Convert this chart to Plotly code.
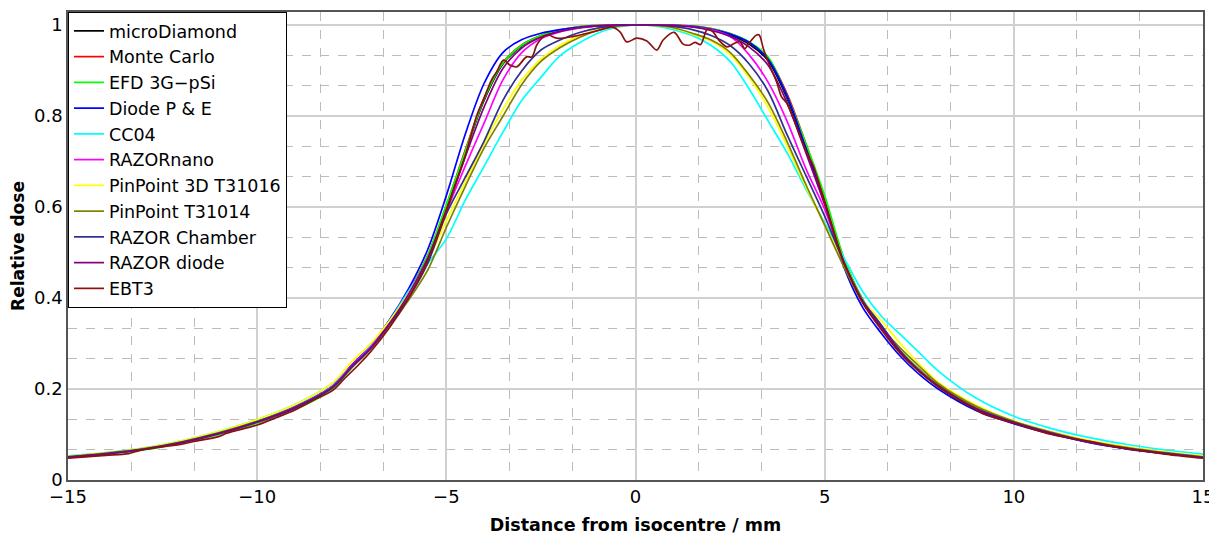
import plotly.graph_objects as go

# shared sampling positions (mm) for the smooth detector profiles
pos = [-15, -14, -13, -12, -11, -10, -9, -8, -7.5, -7, -6.5, -6, -5.5, -5, -4.5, -4,
       -3.5, -3, -2.5, -2, -1.5, -1, -0.5, 0, 0.5, 1, 1.5, 2, 2.5, 3, 3.5, 4, 4.5,
       5, 5.5, 6, 6.5, 7, 7.5, 8, 9, 10, 11, 12, 13, 14, 15]

micro_diamond = [0.051, 0.058, 0.068, 0.083, 0.103, 0.128, 0.160, 0.205, 0.250, 0.290, 0.345, 0.410,
                 0.490, 0.600, 0.720, 0.835, 0.915, 0.955, 0.976, 0.988, 0.995, 0.998, 1.0, 1.0,
                 1.0, 0.999, 0.997, 0.990, 0.978, 0.958, 0.922, 0.840, 0.730, 0.615, 0.485, 0.395,
                 0.338, 0.283, 0.242, 0.208, 0.158, 0.128, 0.104, 0.084, 0.070, 0.060, 0.051]
monte_carlo = [0.051, 0.058, 0.068, 0.083, 0.103, 0.128, 0.160, 0.206, 0.251, 0.292, 0.347, 0.412,
               0.492, 0.603, 0.725, 0.840, 0.918, 0.957, 0.977, 0.989, 0.996, 0.999, 1.0, 1.0,
               1.0, 1.0, 0.998, 0.992, 0.981, 0.962, 0.928, 0.850, 0.740, 0.620, 0.488, 0.397,
               0.339, 0.284, 0.243, 0.209, 0.159, 0.128, 0.104, 0.084, 0.070, 0.059, 0.050]
efd_pSi = [0.049, 0.056, 0.066, 0.081, 0.100, 0.125, 0.155, 0.200, 0.246, 0.288, 0.344, 0.410,
           0.492, 0.605, 0.722, 0.838, 0.917, 0.956, 0.977, 0.989, 0.996, 0.999, 1.0, 1.0,
           1.0, 1.0, 0.998, 0.992, 0.981, 0.963, 0.930, 0.845, 0.740, 0.625, 0.490, 0.398,
           0.339, 0.284, 0.243, 0.208, 0.158, 0.127, 0.103, 0.083, 0.069, 0.059, 0.050]
diode_pe = [0.052, 0.059, 0.069, 0.084, 0.104, 0.129, 0.161, 0.207, 0.253, 0.295, 0.352, 0.420,
            0.505, 0.625, 0.760, 0.872, 0.940, 0.968, 0.982, 0.990, 0.995, 0.998, 0.999, 1.0,
            1.0, 0.999, 0.997, 0.991, 0.980, 0.962, 0.925, 0.845, 0.730, 0.610, 0.470, 0.380,
            0.322, 0.272, 0.232, 0.200, 0.153, 0.124, 0.101, 0.082, 0.068, 0.058, 0.050]
cc04 = [0.053, 0.060, 0.070, 0.086, 0.107, 0.133, 0.166, 0.213, 0.250, 0.295, 0.350, 0.415,
        0.475, 0.530, 0.615, 0.690, 0.765, 0.835, 0.885, 0.932, 0.960, 0.982, 0.995, 1.0,
        0.998, 0.990, 0.977, 0.955, 0.920, 0.860, 0.790, 0.720, 0.640, 0.565, 0.490, 0.415,
        0.360, 0.320, 0.280, 0.240, 0.180, 0.140, 0.113, 0.093, 0.078, 0.066, 0.057]
razor_nano = [0.051, 0.058, 0.068, 0.083, 0.103, 0.129, 0.161, 0.207, 0.252, 0.293, 0.347, 0.410,
              0.480, 0.590, 0.690, 0.785, 0.880, 0.940, 0.970, 0.985, 0.993, 0.998, 1.0, 1.0,
              1.0, 0.999, 0.996, 0.990, 0.975, 0.935, 0.875, 0.790, 0.685, 0.595, 0.480, 0.395,
              0.336, 0.282, 0.241, 0.207, 0.157, 0.127, 0.103, 0.083, 0.069, 0.059, 0.050]
pinpoint_3d = [0.052, 0.060, 0.070, 0.086, 0.107, 0.133, 0.166, 0.214, 0.260, 0.300, 0.350, 0.410,
               0.480, 0.570, 0.655, 0.740, 0.815, 0.880, 0.925, 0.955, 0.975, 0.990, 0.997, 1.0,
               0.999, 0.993, 0.980, 0.965, 0.935, 0.885, 0.820, 0.735, 0.645, 0.560, 0.480, 0.395,
               0.350, 0.300, 0.255, 0.215, 0.165, 0.130, 0.106, 0.087, 0.073, 0.062, 0.053]
pinpoint_t31014 = [0.051, 0.059, 0.069, 0.084, 0.104, 0.129, 0.160, 0.205, 0.248, 0.288, 0.338, 0.395,
                   0.460, 0.555, 0.645, 0.730, 0.800, 0.870, 0.920, 0.950, 0.972, 0.988, 0.997, 1.0,
                   0.999, 0.994, 0.982, 0.967, 0.940, 0.890, 0.830, 0.745, 0.650, 0.560, 0.470, 0.390,
                   0.335, 0.290, 0.250, 0.212, 0.162, 0.129, 0.105, 0.085, 0.071, 0.060, 0.051]
razor_chamber = [0.051, 0.058, 0.068, 0.083, 0.103, 0.128, 0.160, 0.205, 0.250, 0.290, 0.343, 0.400,
                 0.475, 0.585, 0.665, 0.745, 0.835, 0.900, 0.945, 0.967, 0.983, 0.993, 0.999, 1.0,
                 1.0, 0.997, 0.990, 0.977, 0.955, 0.915, 0.855, 0.760, 0.670, 0.580, 0.480, 0.395,
                 0.340, 0.283, 0.240, 0.207, 0.157, 0.127, 0.103, 0.083, 0.069, 0.059, 0.050]
razor_diode = [0.050, 0.057, 0.067, 0.082, 0.102, 0.127, 0.158, 0.203, 0.248, 0.289, 0.344, 0.408,
               0.486, 0.592, 0.710, 0.820, 0.905, 0.950, 0.973, 0.986, 0.994, 0.998, 1.0, 1.0,
               1.0, 0.999, 0.996, 0.988, 0.975, 0.952, 0.912, 0.830, 0.720, 0.605, 0.480, 0.392,
               0.336, 0.281, 0.240, 0.206, 0.156, 0.126, 0.102, 0.083, 0.069, 0.058, 0.049]

# film measurement has its own (noisier) sampling
ebt3_pos = [-15, -14, -13.4, -13.1, -12, -11.7, -11, -10.8, -10, -9.5, -9, -8.5, -8, -7.7, -7.3, -7,
            -6.5, -6, -5.5, -5, -4.8, -4.5, -4.2, -4.0, -3.8, -3.67, -3.49, -3.32, -3.14, -2.88,
            -2.74, -2.61, -2.44, -2.3, -2.08, -1.64, -0.94, -0.63, -0.41, -0.23, 0.03, 0.3, 0.56,
            0.73, 1.02, 1.26, 1.44, 1.57, 1.72, 1.9, 2.05, 2.2, 2.42, 2.62, 2.76, 2.89, 3.0, 3.2,
            3.27, 3.38, 3.55, 3.73, 3.86, 4.0, 4.17, 4.4, 4.55, 4.7, 5.0, 5.5, 5.8, 6.0, 6.5, 7,
            7.5, 8, 8.5, 9, 9.2, 10, 11, 12, 12.5, 13, 13.5, 14, 15]
ebt3 = [0.048, 0.054, 0.058, 0.065, 0.079, 0.084, 0.096, 0.103, 0.121, 0.137, 0.154, 0.176, 0.197,
        0.222, 0.255, 0.282, 0.335, 0.400, 0.480, 0.590, 0.640, 0.712, 0.800, 0.840, 0.880, 0.897,
        0.923, 0.912, 0.908, 0.930, 0.930, 0.956, 0.974, 0.978, 0.971, 0.975, 0.989, 0.996, 0.985,
        0.963, 0.971, 0.965, 0.945, 0.967, 0.984, 0.958, 0.956, 0.962, 0.957, 0.991, 0.985, 0.967,
        0.952, 0.960, 0.963, 0.948, 0.960, 0.978, 0.978, 0.948, 0.910, 0.875, 0.842, 0.828, 0.795,
        0.745, 0.715, 0.690, 0.610, 0.480, 0.425, 0.390, 0.330, 0.278, 0.238, 0.205, 0.178, 0.155,
        0.145, 0.125, 0.100, 0.085, 0.076, 0.069, 0.063, 0.057, 0.048]

series = [
    ('microDiamond', pos, micro_diamond, '#000000'),
    ('Monte Carlo', pos, monte_carlo, '#ff0000'),
    ('EFD 3G\u2212pSi', pos, efd_pSi, '#00ff00'),
    ('Diode P & E', pos, diode_pe, '#0000ff'),
    ('CC04', pos, cc04, '#00ffff'),
    ('RAZORnano', pos, razor_nano, '#ff00ff'),
    ('PinPoint 3D T31016', pos, pinpoint_3d, '#ffff00'),
    ('PinPoint T31014', pos, pinpoint_t31014, '#808000'),
    ('RAZOR Chamber', pos, razor_chamber, '#303090'),
    ('RAZOR diode', pos, razor_diode, '#800080'),
    ('EBT3', ebt3_pos, ebt3, '#8b1010'),
]

fig = go.Figure()
for name, xs, ys, col in series:
    fig.add_trace(go.Scatter(x=xs, y=ys, mode='lines', name=name,
                             line=dict(color=col, width=1.7, shape='spline', smoothing=0.9)))

# page body has an 8px margin, so the figure is 8px smaller than the window
font = 'DejaVu Sans'
fig.update_layout(
    width=1209, height=528,
    margin=dict(l=60, r=14, t=4, b=56),
    plot_bgcolor='white', paper_bgcolor='white',
    font=dict(family=font, size=18, color='black'),
    showlegend=True,
    legend=dict(x=0, y=1, xanchor='left', yanchor='top', bgcolor='white',
                bordercolor='black', borderwidth=1, font=dict(size=17.5)),
    xaxis=dict(range=[-15, 15], dtick=5, tick0=0, showgrid=True, gridcolor='#d0d0d0', gridwidth=2,
               zeroline=False, showline=True, linecolor='#555555', linewidth=1.5, mirror=True,
               ticks='', tickfont=dict(size=18), automargin=False,
               minor=dict(dtick=5 / 3, tick0=0, showgrid=True, gridcolor='#bcbcbc', griddash='dash',
                          gridwidth=1),
               title=dict(text='<b>Distance from isocentre / mm</b>', font=dict(size=17.5), standoff=12)),
    yaxis=dict(range=[0, 1.0286], tickvals=[0, 0.2, 0.4, 0.6, 0.8, 1],
               ticktext=['0', '0.2', '0.4', '0.6', '0.8', '1'],
               showgrid=True, gridcolor='#d0d0d0', gridwidth=2,
               zeroline=False, showline=True, linecolor='#555555', linewidth=1.5, mirror=True,
               ticks='', tickfont=dict(size=18), automargin=False,
               minor=dict(dtick=0.2 / 3, tick0=0, showgrid=True, gridcolor='#bcbcbc', griddash='dash',
                          gridwidth=1),
               title=dict(text='<b>Relative dose</b>', font=dict(size=17), standoff=10)),
)

fig.write_html("out.html")
